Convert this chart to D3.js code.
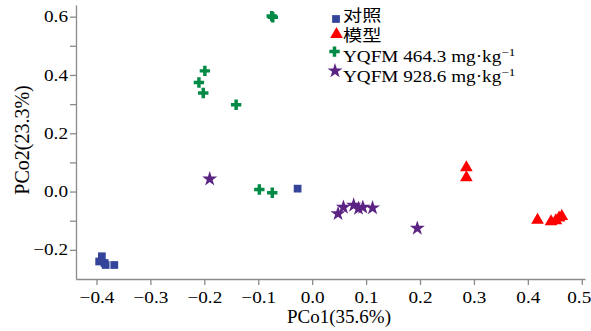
<!DOCTYPE html>
<html>
<head>
<meta charset="utf-8">
<script src="https://cdn.jsdelivr.net/npm/d3@7"></script>
<style>
  body { margin: 0; background: #fff; }
  text { font-family: "Liberation Serif", "Noto Sans CJK SC", serif; }
</style>
</head>
<body>
<div id="chart"></div>
<script>
// PCoA scores
const groups = ['对照', '模型', 'YQFM 464.3 mg·kg', 'YQFM 928.6 mg·kg'];

const controlX = [-0.390, -0.395, -0.385, -0.383, -0.367, -0.027];
const controlY = [-0.222, -0.240, -0.245, -0.252, -0.252, 0.010];

const modelX = [0.286, 0.286, 0.418, 0.443, 0.452, 0.458, 0.463];
const modelY = [0.082, 0.048, -0.098, -0.103, -0.100, -0.090, -0.085];

const lowX = [-0.075, -0.073, -0.199, -0.210, -0.202, -0.141, -0.098, -0.074];
const lowY = [0.602, 0.598, 0.414, 0.374, 0.338, 0.298, 0.007, -0.004];

const highX = [-0.190, 0.048, 0.058, 0.077, 0.086, 0.094, 0.112, 0.195];
const highY = [0.043, -0.076, -0.054, -0.047, -0.058, -0.054, -0.056, -0.126];

const xTicks = [-0.4, -0.3, -0.2, -0.1, 0.0, 0.1, 0.2, 0.3, 0.4, 0.5];
const yTicks = [-0.2, -0.1, 0.0, 0.1, 0.2, 0.3, 0.4, 0.5, 0.6];

const width = 591, height = 331;
const colors = ['#34449a', '#ff0000', '#008a45', '#5b2383'];
const shapes = [d3.symbolSquare, d3.symbolTriangle, d3.symbolCross, d3.symbolStar];
const sizes = [60, 70, 60, 70];
// the source figure is stretched sideways, so text is wider than tall
const sx = 1.2;
const stretch = `scale(${sx},1)`;

const svg = d3.select('#chart').append('svg')
    .attr('width', width)
    .attr('height', height);

const x = d3.scaleLinear().domain([-0.438, 0.506]).range([76, 585]);
const y = d3.scaleLinear().domain([-0.3, 0.64]).range([279, 5]);

const fmt = d3.format('.1f');

// x axis
const gx = svg.append('g')
    .attr('transform', `translate(0,${y(-0.3)})`)
    .call(d3.axisBottom(x).tickValues(xTicks).tickFormat(fmt).tickSize(6).tickSizeOuter(0));

// y axis, labels only on even ticks
const gy = svg.append('g')
    .attr('transform', `translate(${x(-0.438)},0)`)
    .call(d3.axisLeft(y).tickValues(yTicks)
        .tickFormat(d => Math.round(d * 10) % 2 === 0 ? fmt(d) : '')
        .tickSize(6).tickSizeOuter(0));

[gx, gy].forEach(g => {
    g.select('.domain').attr('stroke', '#8a8a8a').attr('stroke-width', 1.3);
    g.selectAll('.tick line').attr('stroke', '#8a8a8a').attr('stroke-width', 1.3);
    g.selectAll('.tick text')
        .attr('fill', '#000')
        .attr('transform', stretch)
        .style('font-size', '16px')
        .style('font-family', '"Liberation Serif", serif');
});
gx.selectAll('.tick text').attr('dy', '0.95em');
// last label sits against the right edge
gx.selectAll('.tick text').filter(d => d === 0.5).attr('x', -3 / sx);
gy.selectAll('.tick text').attr('x', -8 / sx);

// axis titles
svg.append('text')
    .attr('x', 339).attr('y', 323)
    .attr('text-anchor', 'middle')
    .style('font-size', '19px')
    .text('PCo1(35.6%)');

svg.append('text')
    .attr('transform', 'translate(29,140) rotate(-90)')
    .attr('text-anchor', 'middle')
    .style('font-size', '20px')
    .text('PCo2(23.3%)');

// points
const series = [
    [controlX, controlY],
    [modelX, modelY],
    [lowX, lowY],
    [highX, highY]
];

series.forEach(([xs, ys], i) => {
    svg.append('g').selectAll('path')
        .data(xs.map((v, j) => [v, ys[j]]))
        .enter()
        .append('path')
        .attr('d', d3.symbol().type(shapes[i]).size(sizes[i]))
        .attr('transform', d => `translate(${x(d[0])},${y(d[1])})`)
        .attr('fill', colors[i]);
});

// legend
const markerShift = [-2, -7, -10, -11];
const markerX = [336, 336.5, 334.5, 335];
groups.forEach((name, i) => {
    const base = 21 + i * 20.3;
    svg.append('path')
        .attr('d', d3.symbol().type(shapes[i]).size(sizes[i])())
        .attr('transform', `translate(${markerX[i]},${base + markerShift[i]})`)
        .attr('fill', colors[i]);
    const t = svg.append('text')
        .attr('transform', `translate(343,${base}) ${stretch}`)
        .style('font-size', '16px')
        .text(name);
    if (i >= 2) {
        t.append('tspan')
            .attr('dy', -6)
            .style('font-size', '11px')
            .text('−1');
    }
});
</script>
</body>
</html>
